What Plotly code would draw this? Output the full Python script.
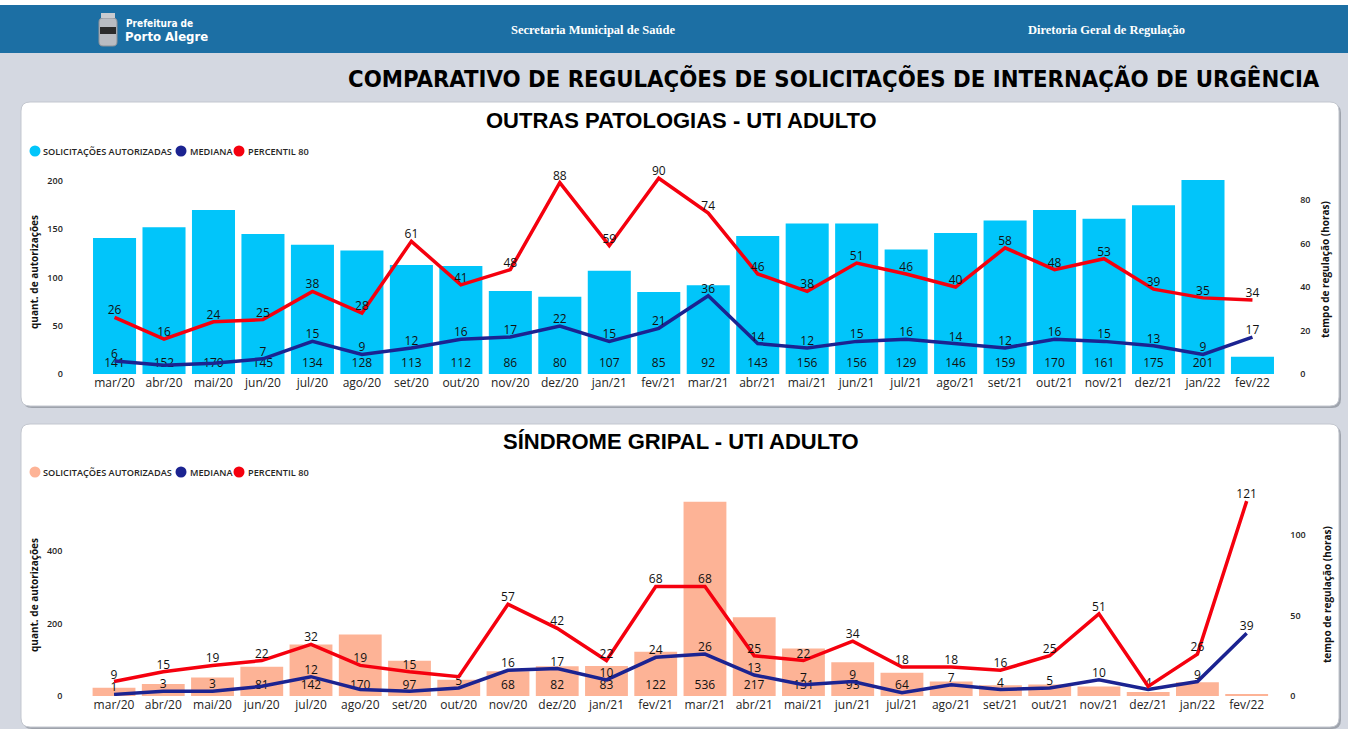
import plotly.graph_objects as go

W, H = 1348, 729

# ---------------- DATA ----------------
months = ["mar/20", "abr/20", "mai/20", "jun/20", "jul/20", "ago/20", "set/20", "out/20",
          "nov/20", "dez/20", "jan/21", "fev/21", "mar/21", "abr/21", "mai/21", "jun/21",
          "jul/21", "ago/21", "set/21", "out/21", "nov/21", "dez/21", "jan/22", "fev/22"]

# Outras patologias - UTI adulto
op_autorizadas = [141, 152, 170, 145, 134, 128, 113, 112, 86, 80, 107, 85, 92, 143, 156, 156,
                  129, 146, 159, 170, 161, 175, 201, 18]
op_mediana = [6, 4, 5, 7, 15, 9, 12, 16, 17, 22, 15, 21, 36, 14, 12, 15, 16, 14, 12, 16, 15, 13, 9, 17]
op_p80 = [26, 16, 24, 25, 38, 28, 61, 41, 48, 88, 59, 90, 74, 46, 38, 51, 46, 40, 58, 48, 53, 39, 35, 34]

# Síndrome gripal - UTI adulto
sg_autorizadas = [23, 33, 51, 81, 142, 170, 97, 45, 68, 82, 83, 122, 536, 217, 131, 93,
                  64, 40, 30, 32, 26, 11, 38, 5]
sg_mediana = [1, 3, 3, 6, 12, 4, 3, 5, 16, 17, 10, 24, 26, 13, 7, 9, 2, 7, 4, 5, 10, 4, 9, 39]
sg_p80 = [9, 15, 19, 22, 32, 19, 15, 12, 57, 42, 22, 68, 68, 25, 22, 34, 18, 18, 16, 25, 51, 6, 26, 121]

# labels hidden in the original (overlaps / too small)
op_hidden_bar = {"fev/22"}
op_hidden_med = {"abr/20", "mai/20"}
op_hidden_p80 = set()
sg_hidden_bar = {"mar/20", "abr/20", "mai/20", "out/20", "ago/21", "set/21", "out/21",
                 "nov/21", "dez/21", "jan/22", "fev/22"}
sg_hidden_med = {"jun/20", "ago/20", "set/20", "jul/21"}
sg_hidden_p80 = {"out/20", "dez/21"}

legend_names = ["SOLICITAÇÕES AUTORIZADAS", "MEDIANA", "PERCENTIL 80"]

# ---------------- STYLE ----------------
C_CYAN = "#01C5FA"
C_SALMON = "#FDB396"
C_NAVY = "#1B2391"
C_RED = "#F5000E"
C_PAGE = "#D4D8E1"
C_HEADER = "#1C6FA4"
FONT = "'Segoe UI', 'Open Sans', sans-serif"
COND = "'Liberation Sans Narrow', 'DejaVu Sans Condensed', sans-serif"


def labels(values, hidden):
    return ["" if m in hidden else str(v) for m, v in zip(months, values)]


def px_x(x):
    return x / W


def px_y(y):
    return 1 - y / H


fig = go.Figure()


def add_panel(n, bars, med, p80, hb, hm, hp, bar_color):
    xa = "x" if n == 1 else f"x{2 * n - 1}"
    ya_l = "y" if n == 1 else f"y{2 * n - 1}"
    ya_r = "y2" if n == 1 else f"y{2 * n}"
    fig.add_trace(go.Bar(
        x=months, y=bars, xaxis=xa, yaxis=ya_l, marker=dict(color=bar_color, line=dict(width=0)),
        text=labels(bars, hb), textposition="inside", insidetextanchor="start",
        textangle=0, insidetextfont=dict(family=FONT, size=12, color="#111"),
        showlegend=False, hoverinfo="x+y", name=legend_names[0]))
    fig.add_trace(go.Scatter(
        x=months, y=med, xaxis=xa, yaxis=ya_r, mode="lines+text",
        line=dict(color=C_NAVY, width=3.5), text=labels(med, hm), textposition="top center",
        textfont=dict(family=FONT, size=12, color="#111"), cliponaxis=False,
        showlegend=False, name=legend_names[1]))
    fig.add_trace(go.Scatter(
        x=months, y=p80, xaxis=xa, yaxis=ya_r, mode="lines+text",
        line=dict(color=C_RED, width=3.5), text=labels(p80, hp), textposition="top center",
        textfont=dict(family=FONT, size=12, color="#111"), cliponaxis=False,
        showlegend=False, name=legend_names[2]))


add_panel(1, op_autorizadas, op_mediana, op_p80, op_hidden_bar, op_hidden_med, op_hidden_p80, C_CYAN)
add_panel(2, sg_autorizadas, sg_mediana, sg_p80, sg_hidden_bar, sg_hidden_med, sg_hidden_p80, C_SALMON)

tickfont_y = dict(family=FONT, size=9, color="#252423", weight=600)
tickfont_x = dict(family=FONT, size=12, color="#252423")

common_x = dict(type="category", showgrid=False, zeroline=False, showline=False, ticks="",
                tickfont=tickfont_x, fixedrange=True, automargin=False,
                range=[-0.5, len(months) - 0.5])
common_y = dict(showgrid=False, zeroline=False, showline=False, ticks="", tickfont=tickfont_y,
                fixedrange=True, automargin=False)

top_dom = [px_y(374), px_y(170)]
bot_dom = [px_y(696), px_y(495)]

fig.update_layout(
    width=W, height=H, margin=dict(l=0, r=0, t=0, b=0, autoexpand=False),
    paper_bgcolor=C_PAGE, plot_bgcolor="rgba(0,0,0,0)", showlegend=False,
    bargap=0.13, font=dict(family=FONT, color="#252423"),
    xaxis=dict(common_x, domain=[px_x(89.8), px_x(1277.2)], anchor="y"),
    yaxis=dict(common_y, domain=top_dom, range=[0, 211.4], tickvals=[0, 50, 100, 150, 200],
               anchor="x", ticklabelstandoff=26),
    yaxis2=dict(common_y, domain=top_dom, range=[0, 93.8], tickvals=[0, 20, 40, 60, 80],
                overlaying="y", side="right", anchor="x", ticklabelstandoff=22),
    xaxis3=dict(common_x, domain=[px_x(89.4), px_x(1271.3)], anchor="y3"),
    yaxis3=dict(common_y, domain=bot_dom, range=[0, 554.5], tickvals=[0, 200, 400],
                anchor="x3", ticklabelstandoff=26),
    yaxis4=dict(common_y, domain=bot_dom, range=[0, 124.8], tickvals=[0, 50, 100],
                overlaying="y3", side="right", anchor="x3", ticklabelstandoff=18),
)


def rrect_path(x0, y0, x1, y1, r):
    X = lambda v: f"{px_x(v):.5f}"
    Y = lambda v: f"{px_y(v):.5f}"
    pts = [f"M {X(x0 + r)},{Y(y0)}", f"L {X(x1 - r)},{Y(y0)}",
           f"Q {X(x1)},{Y(y0)} {X(x1)},{Y(y0 + r)}", f"L {X(x1)},{Y(y1 - r)}",
           f"Q {X(x1)},{Y(y1)} {X(x1 - r)},{Y(y1)}", f"L {X(x0 + r)},{Y(y1)}",
           f"Q {X(x0)},{Y(y1)} {X(x0)},{Y(y1 - r)}", f"L {X(x0)},{Y(y0 + r)}",
           f"Q {X(x0)},{Y(y0)} {X(x0 + r)},{Y(y0)}", "Z"]
    return " ".join(pts)


shapes = [
    dict(type="rect", xref="paper", yref="paper", x0=0, x1=1, y0=px_y(5), y1=1,
         fillcolor="white", line=dict(width=0), layer="below"),
    dict(type="rect", xref="paper", yref="paper", x0=0, x1=1, y0=px_y(53), y1=px_y(5),
         fillcolor=C_HEADER, line=dict(width=0), layer="below"),
    # crest of the logo
    dict(type="path", xref="paper", yref="paper", layer="below",
         path=rrect_path(99, 18, 117, 46, 4), fillcolor="#B9BCC2", line=dict(color="#8E9298", width=1)),
    dict(type="rect", xref="paper", yref="paper", x0=px_x(100), x1=px_x(116), y0=px_y(34),
         y1=px_y(27), fillcolor="#2B2B2B", line=dict(width=0), layer="below"),
    dict(type="rect", xref="paper", yref="paper", x0=px_x(101), x1=px_x(115), y0=px_y(18),
         y1=px_y(13), fillcolor="#C9CBD0", line=dict(width=0), layer="below"),
]
for (y0, y1) in [(102, 406), (424, 727)]:
    shapes.append(dict(type="path", xref="paper", yref="paper", layer="below",
                       path=rrect_path(23, y0 + 2, 1341, y1 + 2, 9),
                       fillcolor="#9EA3AC", line=dict(width=0)))
    shapes.append(dict(type="path", xref="paper", yref="paper", layer="below",
                       path=rrect_path(21, y0, 1339, y1, 9),
                       fillcolor="white", line=dict(color="#C3C7CF", width=1)))

ann = [
    dict(text="<b>Prefeitura de</b>", x=px_x(124), y=px_y(24), xanchor="left", yanchor="middle",
         font=dict(family=COND, size=10, color="white")),
    dict(text="<b>Porto Alegre</b>", x=px_x(123), y=px_y(37), xanchor="left", yanchor="middle",
         font=dict(family=COND, size=13, color="white")),
    dict(text="<b>Secretaria Municipal de Saúde</b>", x=px_x(593), y=px_y(30), xanchor="center",
         yanchor="middle", font=dict(family="'Liberation Serif', serif", size=12.5, color="white")),
    dict(text="<b>Diretoria Geral de Regulação</b>", x=px_x(1106), y=px_y(30), xanchor="center",
         yanchor="middle", font=dict(family="'Liberation Serif', serif", size=12.5, color="white")),
    dict(text="<b>COMPARATIVO DE REGULAÇÕES DE SOLICITAÇÕES DE INTERNAÇÃO DE URGÊNCIA</b>",
         x=px_x(1322), y=px_y(79), xanchor="right", yanchor="middle",
         font=dict(family=COND, size=23.7, color="black")),
    dict(text="<b>OUTRAS PATOLOGIAS - UTI ADULTO</b>", x=px_x(681), y=px_y(120), xanchor="center",
         yanchor="middle", font=dict(family="'Liberation Sans', Arial, sans-serif", size=22, color="black")),
    dict(text="<b>SÍNDROME GRIPAL - UTI ADULTO</b>", x=px_x(681), y=px_y(441), xanchor="center",
         yanchor="middle", font=dict(family="'Liberation Sans', Arial, sans-serif", size=22, color="black")),
    dict(text="<b>quant. de autorizações</b>", x=px_x(34), y=px_y(272), textangle=-90,
         xanchor="center", yanchor="middle", font=dict(family=FONT, size=10, color="#111")),
    dict(text="<b>tempo de regulação (horas)</b>", x=px_x(1325), y=px_y(270), textangle=-90,
         xanchor="center", yanchor="middle", font=dict(family=FONT, size=10, color="#111")),
    dict(text="<b>quant. de autorizações</b>", x=px_x(34), y=px_y(595), textangle=-90,
         xanchor="center", yanchor="middle", font=dict(family=FONT, size=10, color="#111")),
    dict(text="<b>tempo de regulação (horas)</b>", x=px_x(1327), y=px_y(595), textangle=-90,
         xanchor="center", yanchor="middle", font=dict(family=FONT, size=10, color="#111")),
]

# legends (circle + caption) for both panels
legend_dot_x = [35, 181, 239]
legend_text_x = [41, 188, 246]
for ly, bar_color in [(151, C_CYAN), (472, C_SALMON)]:
    for nm, col, dx, tx in zip(legend_names, [bar_color, C_NAVY, C_RED], legend_dot_x, legend_text_x):
        shapes.append(dict(type="circle", xref="paper", yref="paper", xsizemode="pixel",
                           ysizemode="pixel", xanchor=px_x(dx), yanchor=px_y(ly),
                           x0=-5.5, x1=5.5, y0=-5.5, y1=5.5, fillcolor=col, line=dict(width=0)))
        ann.append(dict(text=nm, x=px_x(tx), y=px_y(ly), xanchor="left", yanchor="middle",
                        font=dict(family=FONT, size=9.2, color="#252423", weight=600)))

for a in ann:
    a.update(xref="paper", yref="paper", showarrow=False)
fig.update_layout(shapes=shapes, annotations=ann)

fig.write_html("out.html", config={"displayModeBar": False},
               post_script="document.body.style.margin='0';document.body.style.overflow='hidden';")
